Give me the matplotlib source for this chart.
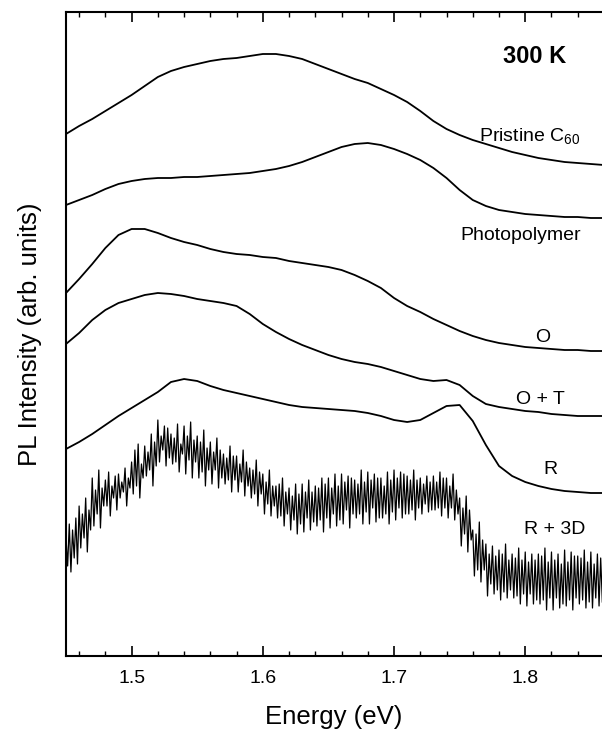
import numpy as np
import matplotlib
matplotlib.use("Agg")
from matplotlib import pyplot as plt
from matplotlib.ticker import MultipleLocator

plt.rcParams['font.family'] = ['Liberation Sans', 'DejaVu Sans']
plt.rcParams['mathtext.default'] = 'regular'

# ----------------------------- data (arb. units, stacked) -----------------------------
# smooth spectra are read every 0.01 eV from 1.45 to 1.86 eV
energy = [1.45, 1.46, 1.47, 1.48, 1.49, 1.50, 1.51, 1.52, 1.53, 1.54, 1.55, 1.56, 1.57, 1.58,
          1.59, 1.60, 1.61, 1.62, 1.63, 1.64, 1.65, 1.66, 1.67, 1.68, 1.69, 1.70, 1.71, 1.72,
          1.73, 1.74, 1.75, 1.76, 1.77, 1.78, 1.79, 1.80, 1.81, 1.82, 1.83, 1.84, 1.85, 1.86]

pristine = [522, 530, 537, 545, 553, 561, 570, 579, 585, 589, 592, 595, 597, 598,
            600, 602, 602, 600, 597, 592, 587, 582, 577, 573, 567, 561, 554, 545,
            535, 527, 521, 516, 512, 508, 504, 501, 498, 496, 494, 493, 492, 491]

photopolymer = [451, 456, 461, 467, 472, 475, 477, 478, 478, 479, 479, 480, 481, 482,
                483, 485, 487, 490, 494, 499, 504, 509, 512, 513, 511, 507, 502, 496,
                488, 478, 466, 456, 450, 446, 444, 442, 441, 440, 439, 439, 438, 438]

o_sample = [363, 377, 392, 408, 421, 427, 427, 423, 418, 414, 411, 407, 404, 402,
            401, 399, 398, 395, 393, 391, 389, 386, 381, 375, 368, 358, 350, 344,
            337, 331, 325, 320, 316, 313, 311, 309, 308, 307, 306, 306, 305, 305]

ot_sample = [312, 323, 336, 346, 353, 357, 361, 363, 362, 360, 357, 355, 353, 350,
             342, 332, 324, 317, 311, 306, 301, 297, 294, 292, 289, 285, 281, 277,
             275, 276, 271, 260, 252, 249, 247, 245, 244, 242, 241, 240, 240, 240]

r_sample = [207, 214, 222, 231, 240, 248, 256, 264, 274, 277, 275, 270, 266, 263,
            260, 257, 254, 251, 249, 248, 247, 246, 245, 243, 240, 236, 234, 236,
            243, 250, 251, 235, 211, 190, 180, 174, 170, 167, 165, 164, 163, 163]

# R + 3D is very noisy: read every 0.00125 eV (8 samples per 0.01 eV row)
r3d_start, r3d_step = 1.45, 0.00125
r3d_sample = [
    118, 90, 132, 84, 126, 98, 138, 92,
    150, 108, 142, 118, 158, 104, 146, 126,
    178, 130, 166, 142, 186, 128, 168, 150,
    176, 150, 184, 140, 170, 158, 180, 146,
    182, 158, 174, 164, 188, 150, 178, 168,
    194, 162, 206, 170, 212, 158, 192, 178,
    210, 180, 204, 186, 222, 170, 214, 190,
    236, 194, 220, 206, 230, 190, 228, 198,
    222, 192, 218, 194, 232, 184, 212, 202,
    230, 182, 220, 196, 234, 178, 216, 194,
    220, 178, 214, 184, 226, 170, 208, 186,
    214, 172, 204, 186, 218, 168, 206, 178,
    202, 172, 198, 176, 210, 164, 200, 176,
    200, 164, 192, 174, 206, 160, 194, 170,
    188, 158, 186, 162, 196, 150, 184, 162,
    182, 142, 174, 152, 186, 140, 170, 150,
    170, 138, 172, 140, 178, 130, 164, 142,
    168, 126, 160, 136, 172, 122, 162, 132,
    172, 124, 164, 138, 176, 126, 164, 134,
    170, 130, 168, 136, 178, 124, 172, 138,
    178, 128, 168, 142, 182, 130, 170, 136,
    182, 132, 174, 146, 180, 128, 178, 142,
    176, 138, 172, 142, 186, 132, 174, 144,
    184, 132, 176, 148, 182, 134, 178, 138,
    178, 138, 170, 142, 184, 132, 176, 144,
    186, 136, 178, 148, 184, 138, 182, 142,
    180, 142, 176, 146, 186, 136, 176, 148,
    178, 142, 172, 152, 180, 144, 174, 146,
    180, 146, 174, 148, 184, 140, 178, 148,
    178, 138, 170, 148, 182, 136, 166, 142,
    158, 110, 148, 122, 160, 104, 146, 116,
    126, 80, 122, 86, 134, 74, 116, 86,
    112, 60, 102, 72, 110, 62, 100, 66,
    106, 56, 102, 64, 112, 58, 96, 66,
    102, 58, 98, 60, 108, 52, 96, 62,
    104, 50, 94, 62, 102, 52, 96, 56,
    102, 52, 100, 56, 108, 46, 94, 58,
    104, 46, 96, 58, 102, 48, 92, 52,
    106, 50, 94, 56, 104, 46, 100, 58,
    100, 52, 98, 56, 106, 48, 94, 54,
    104, 48, 92, 58, 102, 50, 98, 54,
]

curve_labels = ["Pristine C$_{60}$", "Photopolymer", "O", "O + T", "R", "R + 3D"]
label_e = [1.8036, 1.7968, 1.8135, 1.8113, 1.819, 1.8222]
label_i = [520, 421, 319, 256, 186, 127]

if __name__ == "__main__":
    r3d_e = r3d_start + r3d_step * np.arange(len(r3d_sample))

    fig = plt.figure(figsize=(6.02, 7.31), dpi=100)
    ax = fig.add_axes([66 / 602, 75 / 731, 536 / 602, 644 / 731])

    for ys in [pristine, photopolymer, o_sample, ot_sample, r_sample]:
        ax.plot(energy, ys, color="black", lw=1.3)
    ax.plot(r3d_e, r3d_sample, color="black", lw=0.9)

    for txt, xe, yi in zip(curve_labels, label_e, label_i):
        ax.text(xe, yi, txt, ha="center", va="center", fontsize=14)
    ax.text(1.8075, 600, "300 K", ha="center", va="center", fontsize=17, fontweight="bold")

    ax.set_xlim(1.45, 1.8585)
    ax.set_ylim(0, 644)

    ax.xaxis.set_minor_locator(MultipleLocator(0.02))
    ax.set_xticks([1.5, 1.6, 1.7, 1.8])
    ax.set_xticklabels(["1.5", "1.6", "1.7", "1.8"])
    ax.tick_params(axis="x", which="both", direction="in", top=True, bottom=True,
                   labelsize=14, pad=10)
    ax.tick_params(axis="x", which="major", length=7, width=1.2)
    ax.tick_params(axis="x", which="minor", length=3.5, width=1)
    ax.tick_params(axis="y", left=False, labelleft=False)

    ax.spines["right"].set_visible(False)
    for s in ["left", "top", "bottom"]:
        ax.spines[s].set_linewidth(1.5)

    ax.set_xlabel("Energy (eV)", fontsize=18.5)
    ax.xaxis.label.set_verticalalignment("center")
    ax.xaxis.set_label_coords(0.5, -61 / 644)
    ax.set_ylabel("PL Intensity (arb. units)", fontsize=18.5)
    ax.yaxis.label.set_verticalalignment("center")
    ax.yaxis.set_label_coords(-36 / 536, 0.5)

    fig.savefig("out.png", dpi=100)
